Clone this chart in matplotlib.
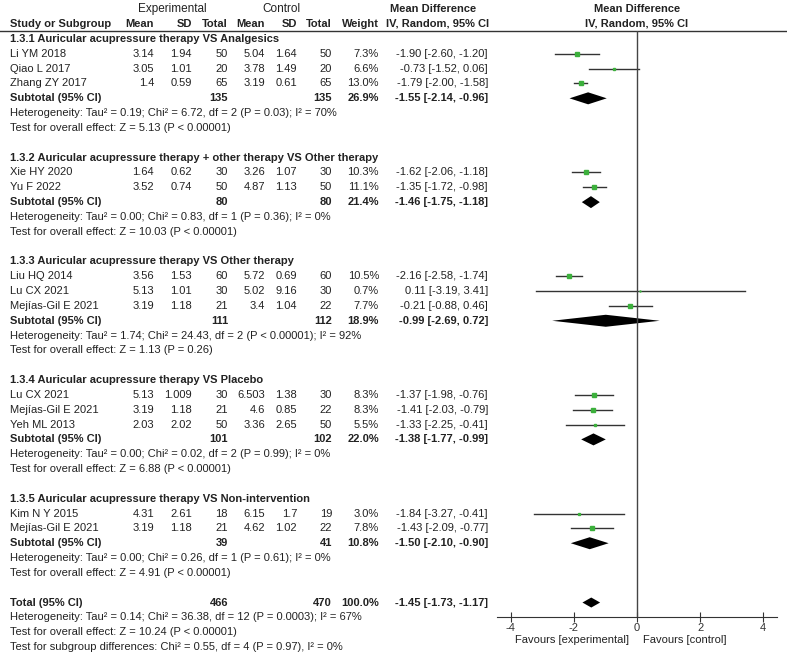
import numpy as np
import matplotlib
matplotlib.use("Agg")
import matplotlib.pyplot as plt

plt.rcParams['font.family'] = ['Liberation Sans', 'DejaVu Sans']
plt.rcParams['axes.unicode_minus'] = False

# ---- data ----
group_titles = [
    "1.3.1 Auricular acupressure therapy VS Analgesics",
    "1.3.2 Auricular acupressure therapy + other therapy VS Other therapy",
    "1.3.3 Auricular acupressure therapy VS Other therapy",
    "1.3.4 Auricular acupressure therapy VS Placebo",
    "1.3.5 Auricular acupressure therapy VS Non-intervention",
]
study_group = [0, 0, 0, 1, 1, 2, 2, 2, 3, 3, 3, 4, 4]
study_names = ["Li YM 2018", "Qiao L 2017", "Zhang ZY 2017",
               "Xie HY 2020", "Yu F 2022",
               "Liu HQ 2014", "Lu CX 2021", "Mejías-Gil E 2021",
               "Lu CX 2021", "Mejías-Gil E 2021", "Yeh ML 2013",
               "Kim N Y 2015", "Mejías-Gil E 2021"]
exp_mean = [3.14, 3.05, 1.4, 1.64, 3.52, 3.56, 5.13, 3.19, 5.13, 3.19, 2.03, 4.31, 3.19]
exp_sd = [1.94, 1.01, 0.59, 0.62, 0.74, 1.53, 1.01, 1.18, 1.009, 1.18, 2.02, 2.61, 1.18]
exp_n = [50, 20, 65, 30, 50, 60, 30, 21, 30, 21, 50, 18, 21]
ctl_mean = [5.04, 3.78, 3.19, 3.26, 4.87, 5.72, 5.02, 3.4, 6.503, 4.6, 3.36, 6.15, 4.62]
ctl_sd = [1.64, 1.49, 0.61, 1.07, 1.13, 0.69, 9.16, 1.04, 1.38, 0.85, 2.65, 1.7, 1.02]
ctl_n = [50, 20, 65, 30, 50, 60, 30, 22, 30, 22, 50, 19, 22]
weights = [7.3, 6.6, 13.0, 10.3, 11.1, 10.5, 0.7, 7.7, 8.3, 8.3, 5.5, 3.0, 7.8]
md = [-1.90, -0.73, -1.79, -1.62, -1.35, -2.16, 0.11, -0.21, -1.37, -1.41, -1.33, -1.84, -1.43]
md_lo = [-2.60, -1.52, -2.00, -2.06, -1.72, -2.58, -3.19, -0.88, -1.98, -2.03, -2.25, -3.27, -2.09]
md_hi = [-1.20, 0.06, -1.58, -1.18, -0.98, -1.74, 3.41, 0.46, -0.76, -0.79, -0.41, -0.41, -0.77]

sub_exp_n = [135, 80, 111, 101, 39]
sub_ctl_n = [135, 80, 112, 102, 41]
sub_weight = [26.9, 21.4, 18.9, 22.0, 10.8]
sub_md = [-1.55, -1.46, -0.99, -1.38, -1.50]
sub_lo = [-2.14, -1.75, -2.69, -1.77, -2.10]
sub_hi = [-0.96, -1.18, 0.72, -0.99, -0.90]
sub_het = [
    "Heterogeneity: Tau² = 0.19; Chi² = 6.72, df = 2 (P = 0.03); I² = 70%",
    "Heterogeneity: Tau² = 0.00; Chi² = 0.83, df = 1 (P = 0.36); I² = 0%",
    "Heterogeneity: Tau² = 1.74; Chi² = 24.43, df = 2 (P < 0.00001); I² = 92%",
    "Heterogeneity: Tau² = 0.00; Chi² = 0.02, df = 2 (P = 0.99); I² = 0%",
    "Heterogeneity: Tau² = 0.00; Chi² = 0.26, df = 1 (P = 0.61); I² = 0%",
]
sub_test = [
    "Test for overall effect: Z = 5.13 (P < 0.00001)",
    "Test for overall effect: Z = 10.03 (P < 0.00001)",
    "Test for overall effect: Z = 1.13 (P = 0.26)",
    "Test for overall effect: Z = 6.88 (P < 0.00001)",
    "Test for overall effect: Z = 4.91 (P < 0.00001)",
]
total_exp_n, total_ctl_n = 466, 470
total_weight = 100.0
total_md, total_lo, total_hi = -1.45, -1.73, -1.17
total_notes = [
    "Heterogeneity: Tau² = 0.14; Chi² = 36.38, df = 12 (P = 0.0003); I² = 67%",
    "Test for overall effect: Z = 10.24 (P < 0.00001)",
    "Test for subgroup differences: Chi² = 0.55, df = 4 (P = 0.97), I² = 0%",
]
xticks = [-4, -2, 0, 2, 4]

# ---- layout (pixels) ----
W, H = 787, 655
FS = 8.0
y0, dy = 39, 14.83
def row_y(r):
    return y0 + dy * r

col_right = [154, 192, 228, 265, 297, 332, 379]
ci_right = 488
name_x = 10
INK = '#222222'

fig = plt.figure(figsize=(W / 100, H / 100), dpi=100)
tab = fig.add_axes([0, 0, 1, 1])
tab.set_xlim(0, W)
tab.set_ylim(H, 0)
tab.axis('off')

ax = fig.add_axes([497 / W, (H - 617) / H, 280 / W, (617 - 31) / H])
ax.set_xlim(-4.44, 4.44)
ax.set_ylim(617, 31)
ax.patch.set_alpha(0)


def txt(x, r, s, ha='left', bold=False):
    tab.text(x, row_y(r), s, ha=ha, va='center', fontsize=FS,
             fontweight='bold' if bold else 'normal', color=INK)


def ci_str(m, lo, hi):
    return "%.2f [%.2f, %.2f]" % (m, lo, hi)


def diamond(m, lo, hi, r, h):
    y = row_y(r)
    ax.fill([lo, m, hi, m], [y, y - h, y, y + h], color='black', lw=0)


# headers
tab.text(172, 9, "Experimental", ha='center', va='center', fontsize=FS + 0.5, color=INK)
tab.text(281, 9, "Control", ha='center', va='center', fontsize=FS + 0.5, color=INK)
tab.text(433, 9, "Mean Difference", ha='center', va='center', fontsize=FS, fontweight='bold', color=INK)
tab.text(637, 9, "Mean Difference", ha='center', va='center', fontsize=FS, fontweight='bold', color=INK)
hdr = ["Mean", "SD", "Total", "Mean", "SD", "Total", "Weight"]
for x, s in zip(col_right, hdr):
    tab.text(x, 24, s, ha='right', va='center', fontsize=FS, fontweight='bold', color=INK)
tab.text(name_x, 24, "Study or Subgroup", ha='left', va='center', fontsize=FS, fontweight='bold', color=INK)
tab.text(438, 24, "IV, Random, 95% CI", ha='center', va='center', fontsize=FS, fontweight='bold', color=INK)
tab.text(637, 24, "IV, Random, 95% CI", ha='center', va='center', fontsize=FS, fontweight='bold', color=INK)
tab.axhline(31, color='#333333', lw=1)

r = 0
for g, title in enumerate(group_titles):
    txt(name_x, r, title, bold=True)
    r += 1
    for i in [k for k, gg in enumerate(study_group) if gg == g]:
        vals = [exp_mean[i], exp_sd[i], exp_n[i], ctl_mean[i], ctl_sd[i], ctl_n[i]]
        txt(name_x, r, study_names[i])
        for x, v in zip(col_right, vals):
            txt(x, r, str(v), ha='right')
        txt(col_right[6], r, "%.1f%%" % weights[i], ha='right')
        txt(ci_right, r, ci_str(md[i], md_lo[i], md_hi[i]), ha='right')
        ax.plot([md_lo[i], md_hi[i]], [row_y(r)] * 2, color='#333333', lw=1)
        ax.plot(md[i], row_y(r), marker='s', ms=np.sqrt(weights[i]) * 0.8,
                color='#3cb03c', mec='#3cb03c', lw=0)
        r += 1
    txt(name_x, r, "Subtotal (95% CI)", bold=True)
    txt(col_right[2], r, str(sub_exp_n[g]), ha='right', bold=True)
    txt(col_right[5], r, str(sub_ctl_n[g]), ha='right', bold=True)
    txt(col_right[6], r, "%.1f%%" % sub_weight[g], ha='right', bold=True)
    txt(ci_right, r, ci_str(sub_md[g], sub_lo[g], sub_hi[g]), ha='right', bold=True)
    diamond(sub_md[g], sub_lo[g], sub_hi[g], r, 6)
    r += 1
    txt(name_x, r, sub_het[g])
    r += 1
    txt(name_x, r, sub_test[g])
    r += 2

txt(name_x, r, "Total (95% CI)", bold=True)
txt(col_right[2], r, str(total_exp_n), ha='right', bold=True)
txt(col_right[5], r, str(total_ctl_n), ha='right', bold=True)
txt(col_right[6], r, "%.1f%%" % total_weight, ha='right', bold=True)
txt(ci_right, r, ci_str(total_md, total_lo, total_hi), ha='right', bold=True)
diamond(total_md, total_lo, total_hi, r, 5)
r += 1
for s in total_notes:
    txt(name_x, r, s)
    r += 1

# forest axis styling
ax.axvline(0, color='#444444', lw=1)
for side in ['top', 'right', 'left']:
    ax.spines[side].set_visible(False)
ax.spines['bottom'].set_color('#333333')
ax.set_yticks([])
ax.set_xticks(xticks)
ax.set_xticklabels([str(t) for t in xticks])
ax.tick_params(axis='x', direction='inout', length=7, labelsize=FS, pad=1,
               colors='#333333')

tab.text(629, 640, "Favours [experimental]", ha='right', va='center', fontsize=FS, color=INK)
tab.text(643, 640, "Favours [control]", ha='left', va='center', fontsize=FS, color=INK)

fig.savefig("out.png", dpi=100)
